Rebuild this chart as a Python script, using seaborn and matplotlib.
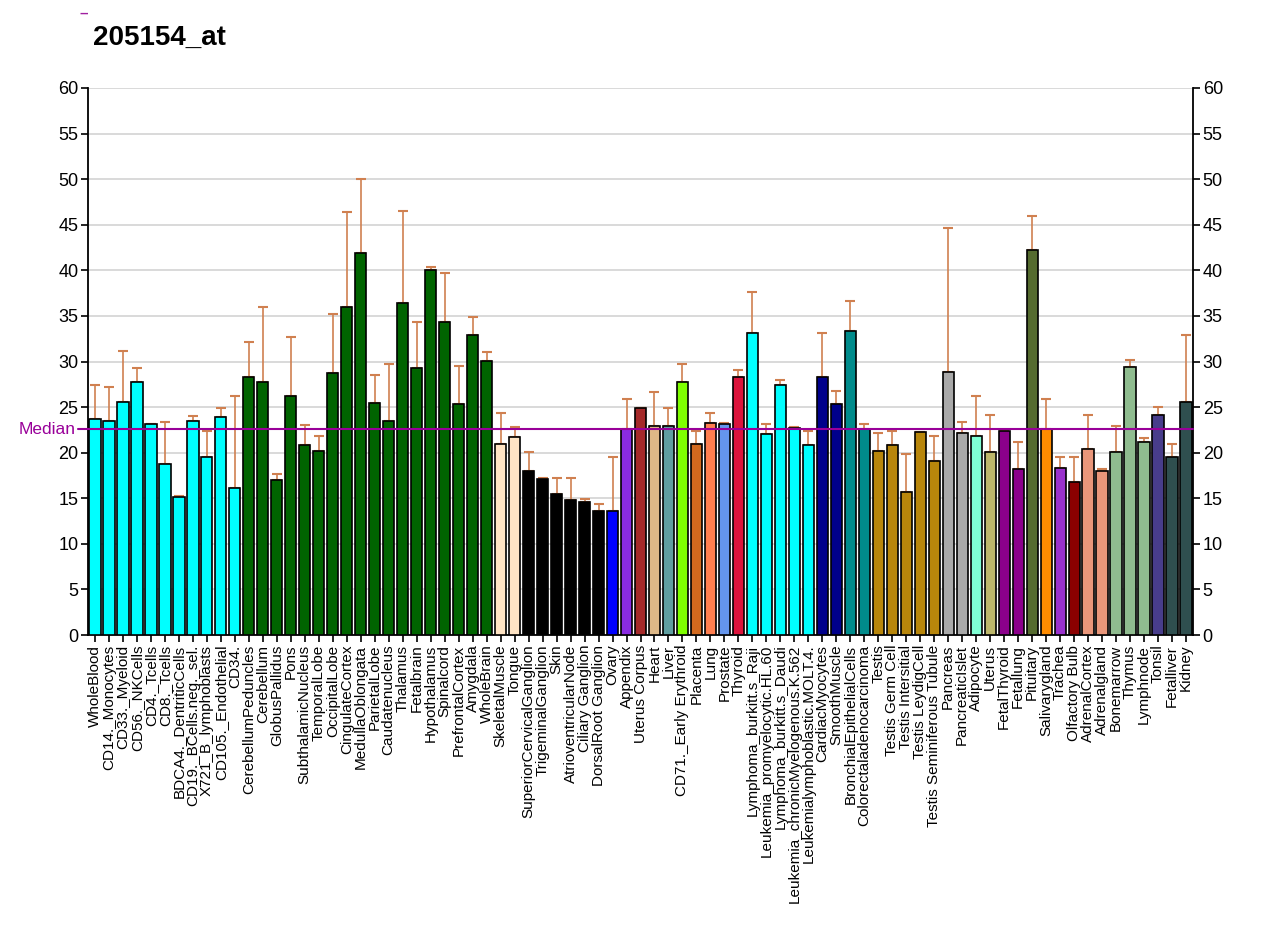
import matplotlib
matplotlib.use("Agg")
import matplotlib.pyplot as plt
import seaborn as sns
import numpy as np
import pandas as pd

title = "205154_at"

tissues = [
    "WholeBlood", "CD14._Monocytes", "CD33._Myeloid", "CD56._NKCells", "CD4._Tcells",
    "CD8._Tcells", "BDCA4._DentriticCells", "CD19._BCells.neg._sel.", "X721_B_lymphoblasts",
    "CD105._Endothelial", "CD34.", "CerebellumPeduncles", "Cerebellum", "GlobusPallidus",
    "Pons", "SubthalamicNucleus", "TemporalLobe", "OccipitalLobe", "CingulateCortex",
    "MedullaOblongata", "ParietalLobe", "Caudatenucleus", "Thalamus", "Fetalbrain",
    "Hypothalamus", "Spinalcord", "PrefrontalCortex", "Amygdala", "WholeBrain",
    "SkeletalMuscle", "Tongue", "SuperiorCervicalGanglion", "TrigeminalGanglion", "Skin",
    "AtrioventricularNode", "Ciliary Ganglion", "DorsalRoot Ganglion", "Ovary", "Appendix",
    "Uterus Corpus", "Heart", "Liver", "CD71._Early Erythroid", "Placenta", "Lung",
    "Prostate", "Thyroid", "Lymphoma_burkitt.s_Raji", "Leukemia_promyelocytic.HL.60",
    "Lymphoma_burkitt.s_Daudi", "Leukemia_chronicMyelogenous.K.562",
    "Leukemialymphoblastic.MOLT.4.", "CardiacMyocytes", "SmoothMuscle",
    "BronchialEpithelialCells", "Colorectaladenocarcinoma", "Testis", "Testis Germ Cell",
    "Testis Intersitial", "Testis LeydigCell", "Testis Seminiferous Tubule", "Pancreas",
    "PancreaticIslet", "Adipocyte", "Uterus", "FetalThyroid", "Fetallung", "Pituitary",
    "Salivarygland", "Trachea", "Olfactory Bulb", "AdrenalCortex", "Adrenalgland",
    "Bonemarrow", "Thymus", "Lymphnode", "Tonsil", "Fetalliver", "Kidney",
]

values = [
    23.7, 23.5, 25.6, 27.7, 23.1, 18.8, 15.1, 23.5, 19.5, 23.9, 16.1,
    28.3, 27.7, 17.0, 26.2, 20.8, 20.2, 28.7, 36.0, 41.9, 25.5, 23.5, 36.4, 29.3,
    40.0, 34.3, 25.3, 32.9, 30.1,
    20.9, 21.7, 18.0, 17.1, 15.5, 14.8, 14.6, 13.6, 13.6,
    22.6, 24.9, 22.9, 22.9, 27.7, 21.0, 23.3, 23.1, 28.3,
    33.1, 22.0, 27.4, 22.7, 20.8, 28.3, 25.3, 33.3, 22.6,
    20.2, 20.8, 15.7, 22.3, 19.1, 28.9, 22.2, 21.8, 20.1, 22.4, 18.2, 42.2,
    22.6, 18.3, 16.8, 20.4, 18.0, 20.1, 29.4, 21.2, 24.1, 19.5, 25.6,
]

err_top = [
    27.4, 27.2, 31.2, 29.3, 23.1, 23.4, 15.3, 24.0, 22.4, 24.9, 26.2,
    32.1, 36.0, 17.7, 32.7, 23.0, 21.8, 35.2, 46.4, 50.0, 28.5, 29.7, 46.5, 34.3,
    40.4, 39.7, 29.5, 34.9, 31.0,
    24.3, 22.8, 20.1, 17.2, 17.2, 17.2, 14.9, 14.4, 19.5,
    25.9, 24.9, 26.6, 24.9, 29.7, 22.4, 24.3, 23.3, 29.1,
    37.6, 23.1, 28.0, 22.8, 22.4, 33.1, 26.8, 36.6, 23.1,
    22.2, 22.4, 19.9, 22.3, 21.8, 44.6, 23.4, 26.2, 24.1, 22.4, 21.2, 46.0,
    25.9, 19.5, 19.5, 24.1, 18.2, 22.9, 30.2, 21.6, 25.0, 21.0, 32.9,
]

colors = (
    ["#00FFFF"] * 11 + ["#006400"] * 18 + ["#FFE4C4"] * 2 + ["#000000"] * 6 +
    ["#0000FF", "#8A2BE2", "#A52A2A", "#DEB887", "#5F9EA0", "#7FFF00", "#D2691E",
     "#FF7F50", "#6495ED", "#DC143C"] +
    ["#00FFFF"] * 5 + ["#00008B"] * 2 + ["#008B8B"] * 2 + ["#B8860B"] * 5 +
    ["#A9A9A9"] * 2 + ["#7FFFD4", "#BDB76B"] + ["#8B008B"] * 2 +
    ["#556B2F", "#FF8C00", "#9932CC", "#8B0000"] + ["#E9967A"] * 2 +
    ["#8FBC8F"] * 3 + ["#483D8B"] + ["#2F4F4F"] * 2
)

median_value = 22.56
yticks = list(range(0, 61, 5))

sns.set_style("white")
plt.rcParams["font.family"] = ["Liberation Sans", "DejaVu Sans"]
plt.rcParams["text.color"] = "black"
plt.rcParams["xtick.color"] = "black"
plt.rcParams["ytick.color"] = "black"
plt.rcParams["axes.labelcolor"] = "black"

fig = plt.figure(figsize=(12.8, 9.27), dpi=100)
ax = fig.add_axes([88 / 1280, 1 - 635 / 927, (1193 - 88) / 1280, (635 - 88) / 927])

df = pd.DataFrame({"tissue": tissues, "value": values})
sns.barplot(data=df, x="tissue", y="value", hue="tissue", palette=colors,
            saturation=1, legend=False, width=0.8, edgecolor="black",
            linewidth=1.2, errorbar=None, ax=ax, zorder=3)

x = np.arange(len(tissues))
v = np.array(values)
e = np.array(err_top) - v
ax.errorbar(x, v, yerr=[np.zeros_like(e), e], fmt="none", ecolor="#D08050",
            elinewidth=1.2, capsize=3.5, capthick=1.5, zorder=2)

ax.set_ylim(0, 60)
ax.set_xlim(-0.5, len(tissues) - 0.5)
ax.set_yticks(yticks)
ax.yaxis.grid(True, color="#d3d3d3", linewidth=1.2, zorder=0)
ax.set_axisbelow(True)
ax.tick_params(axis="y", which="both", left=True, right=True, labelleft=True,
               labelright=True, direction="out", length=5, width=1.2,
               labelsize=13, pad=2, colors="black")
ax.tick_params(axis="x", bottom=True, direction="out", length=5, width=1.2,
               pad=2, colors="black")
ax.set_xticks(x)
ax.set_xticklabels(tissues, rotation=90, fontsize=11, ha="center", va="top")
ax.set_xlabel("")
ax.set_ylabel("")
for s in ["left", "right", "bottom"]:
    ax.spines[s].set_visible(True)
    ax.spines[s].set_color("black")
    ax.spines[s].set_linewidth(1.3)
ax.spines["top"].set_visible(False)

ax.axhline(median_value, color="#990099", linewidth=1.5, zorder=4,
           xmin=-10 / 1105, xmax=1, clip_on=False)
ax.text(-0.011, median_value, "Median", transform=ax.get_yaxis_transform(),
        ha="right", va="center", color="#990099", fontsize=12.5)

fig.text(93 / 1280, 1 - 38 / 927, title, fontsize=20, fontweight="bold",
         ha="left", va="center", color="black")
fig.text(84 / 1280, 1 - 14 / 927, "\u2013", fontsize=11, fontweight="bold",
         color="#A020A0", ha="center", va="center")

fig.savefig("out.png", dpi=100)
